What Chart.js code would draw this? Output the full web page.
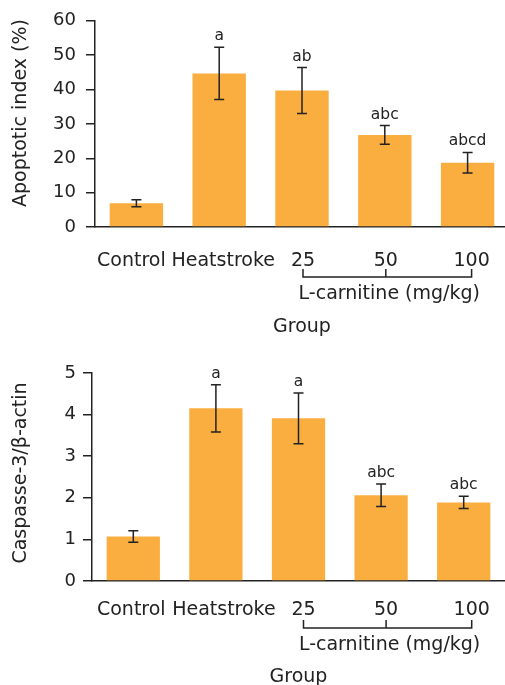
<!DOCTYPE html>
<html>
<head>
<meta charset="utf-8">
<script src="https://cdn.jsdelivr.net/npm/chart.js@4"></script>
<style>
  html, body { margin: 0; padding: 0; background: #fff; overflow: hidden; }
  canvas { display: block; }
</style>
</head>
<body>
<canvas id="apoptosis" width="509" height="345"></canvas>
<canvas id="caspase" width="505" height="340"></canvas>
<script>
// ── Data ──────────────────────────────────────────────────────────────
const groups          = ['Control', 'Heatstroke', '25', '50', '100'];
const apoptoticIndex  = [6.9, 44.7, 39.7, 26.8, 18.7];
const apoptoticErr    = [1.0, 7.6, 6.7, 2.7, 3.0];
const apoptoticSig    = ['', 'a', 'ab', 'abc', 'abcd'];
const apoptoticTicks  = [0, 10, 20, 30, 40, 50, 60];
const caspaseRatio    = [1.07, 4.15, 3.91, 2.06, 1.89];
const caspaseErr      = [0.14, 0.57, 0.61, 0.27, 0.15];
const caspaseSig      = ['', 'a', 'a', 'abc', 'abc'];
const caspaseTicks    = [0, 1, 2, 3, 4, 5];

const FONT  = "'DejaVu Sans', Verdana, sans-serif";
const INK   = '#222';
const BAR   = '#fbae40';

// ── Plugin : barres d'erreur, lettres, étiquettes X, accolade, titre Y ─
const extrasPlugin = {
    id: 'extras',
    afterDatasetsDraw(chart) {
        const o    = chart.options.plugins.extras;
        const ctx  = chart.ctx;
        const xs   = chart.scales.x;
        const ys   = chart.scales.y;
        const vals = chart.data.datasets[0].data;
        const axisY = chart.chartArea.bottom;

        ctx.save();
        ctx.strokeStyle = INK;
        ctx.fillStyle   = INK;
        ctx.lineWidth   = 1.5;

        vals.forEach((v, i) => {
            const x  = xs.getPixelForValue(i);
            const y1 = ys.getPixelForValue(v + o.errors[i]);
            const y2 = ys.getPixelForValue(v - o.errors[i]);
            ctx.beginPath();
            ctx.moveTo(x, y1); ctx.lineTo(x, y2);
            ctx.moveTo(x - 5, y1); ctx.lineTo(x + 5, y1);
            ctx.moveTo(x - 5, y2); ctx.lineTo(x + 5, y2);
            ctx.stroke();

            if (o.sig[i]) {
                ctx.font = '15.5px ' + FONT;
                ctx.textAlign = 'center';
                ctx.textBaseline = 'alphabetic';
                ctx.fillText(o.sig[i], x, y1 - 7);
            }
        });

        // étiquettes des groupes
        const lx = groups.map((_, i) => xs.getPixelForValue(i) + o.labelShift[i]);
        ctx.font = '19px ' + FONT;
        ctx.textAlign = 'center';
        ctx.textBaseline = 'middle';
        groups.forEach((g, i) => ctx.fillText(g, lx[i], axisY + o.labelY));

        // accolade sous 25 / 50 / 100
        const by = axisY + o.bracketY;
        ctx.beginPath();
        ctx.moveTo(lx[2], by - 8); ctx.lineTo(lx[2], by);
        ctx.lineTo(lx[4], by); ctx.lineTo(lx[4], by - 8);
        ctx.moveTo(lx[3], by - 8); ctx.lineTo(lx[3], by);
        ctx.stroke();
        ctx.fillText('L-carnitine (mg/kg)', (lx[2] + lx[4]) / 2 + 2, by + 17);

        // titre axe Y
        ctx.translate(o.yTitleX, o.yTitleY);
        ctx.rotate(-Math.PI / 2);
        ctx.fillText(o.yTitle, 0, 0);
        ctx.restore();
    }
};

// ── Chart factory ─────────────────────────────────────────────────────
function makeChart(id, values, errors, sig, ticks, cfg) {
    const yMax = ticks[ticks.length - 1];
    return new Chart(document.getElementById(id), {
        type: 'bar',
        data: {
            labels: groups,
            datasets: [{
                data: values,
                backgroundColor: BAR,
                categoryPercentage: 1,
                barPercentage: 0.645
            }]
        },
        options: {
            responsive: false,
            animation: false,
            layout: { padding: { top: cfg.top, left: 0, right: 0, bottom: 0 } },
            plugins: {
                legend: { display: false },
                tooltip: { enabled: false },
                extras: {
                    errors, sig,
                    labelShift: cfg.labelShift,
                    labelY: cfg.labelY,
                    bracketY: cfg.bracketY,
                    yTitle: cfg.yTitle,
                    yTitleX: 21,
                    yTitleY: cfg.yTitleY
                }
            },
            scales: {
                x: {
                    grid: { display: false },
                    border: { display: true, color: INK, width: 1.5 },
                    ticks: { display: false },
                    title: {
                        display: true, text: 'Group', color: INK,
                        font: { family: FONT, size: 19 },
                        padding: { top: 0, bottom: cfg.groupPad }
                    },
                    afterFit: s => { s.height = cfg.xHeight; }
                },
                y: {
                    min: 0, max: yMax,
                    afterBuildTicks: s => { s.ticks = ticks.map(v => ({ value: v })); },
                    grid: {
                        drawOnChartArea: false, drawTicks: true,
                        tickLength: 9, color: INK, lineWidth: 1.5
                    },
                    border: { display: true, color: INK, width: 1.5 },
                    ticks: {
                        color: INK, font: { family: FONT, size: 18 },
                        padding: cfg.yPad
                    },
                    afterFit: s => { s.width = cfg.yWidth; }
                }
            }
        },
        plugins: [extrasPlugin]
    });
}

// ── Bootstrap ─────────────────────────────────────────────────────────
makeChart('apoptosis', apoptoticIndex, apoptoticErr, apoptoticSig, apoptoticTicks, {
    top: 19, yWidth: 95, xHeight: 118, groupPad: 7, yPad: 10,
    labelShift: [-5, 4, 1, 1, 4], labelY: 34, bracketY: 50,
    yTitle: 'Apoptotic index (%)', yTitleY: 113
});
makeChart('caspase', caspaseRatio, caspaseErr, caspaseSig, caspaseTicks, {
    top: 28, yWidth: 92, xHeight: 104, groupPad: -3, yPad: 7,
    labelShift: [-2, 8, 5, 5, 8], labelY: 29, bracketY: 47,
    yTitle: 'Caspasse-3/β-actin', yTitleY: 128
});
</script>
</body>
</html>
